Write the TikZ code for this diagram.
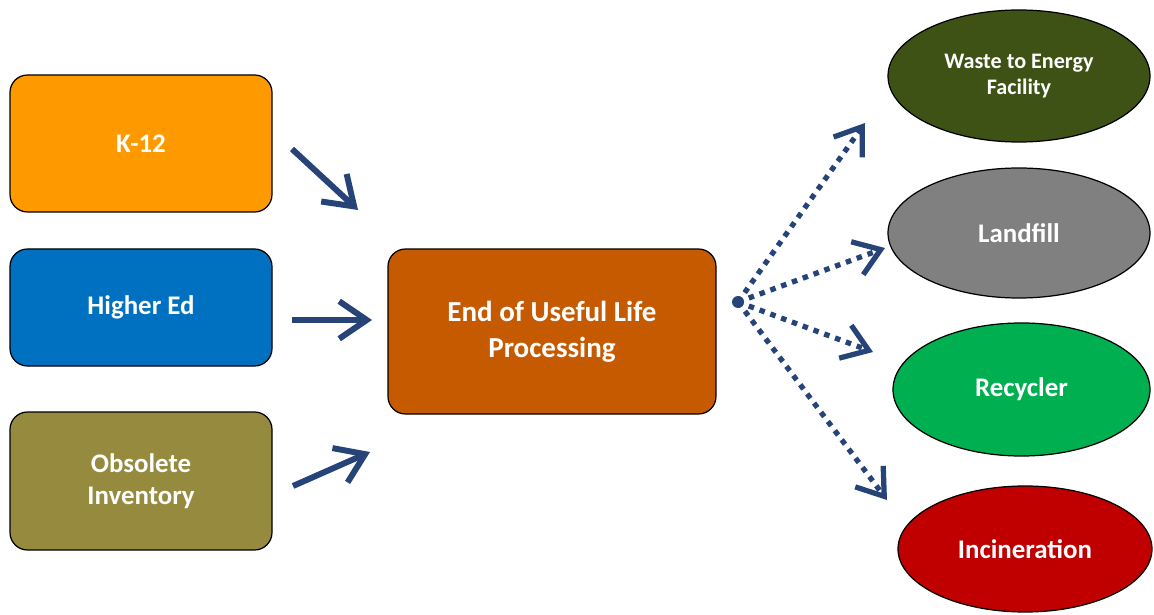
\documentclass[tikz,border=0pt]{standalone}
\usepackage{fontspec}
\setmainfont{Carlito}
\usetikzlibrary{shapes.geometric, arrows.meta}

\definecolor{kOrange}{HTML}{FF9900}
\definecolor{heBlue}{HTML}{0070C0}
\definecolor{obOlive}{HTML}{958A3E}
\definecolor{eolRust}{HTML}{C55A00}
\definecolor{wteGreen}{HTML}{3F5216}
\definecolor{lfGray}{HTML}{808080}
\definecolor{rcGreen}{HTML}{00B050}
\definecolor{inRed}{HTML}{C00000}
\definecolor{flowBlue}{HTML}{264478}

\tikzset{
    srcbox/.style={draw=black, line width=0.7pt, rounded corners=0.35cm, minimum width=5.24cm,
        text=white, font=\bfseries\fontsize{15.3}{18}\selectfont, align=center},
    outlet/.style={ellipse, draw=black, line width=0.7pt, text=white, align=center, inner sep=0pt,
        font=\bfseries\fontsize{15.3}{18}\selectfont},
    flow/.style={flowBlue, line width=3.4pt, -{Straight Barb[length=0.55cm, width=0.75cm, line width=3.4pt]}},
    route/.style={flowBlue, line width=3pt, dash pattern=on 0.11cm off 0.12cm,
        -{Straight Barb[length=0.5cm, width=0.7cm, line width=3pt]}}
}

\begin{document}
\begin{tikzpicture}
    \useasboundingbox (0,0) rectangle (23.08,-12.3);

    % Sources
    \node[srcbox, fill=kOrange, minimum height=2.74cm] (k12) at (2.82,-2.87) {K-12};
    \node[srcbox, fill=heBlue, minimum height=2.34cm] (higher) at (2.82,-6.15) {Higher Ed};
    \node[srcbox, fill=obOlive, minimum height=2.76cm] (obsolete) at (2.82,-9.62) {Obsolete\\Inventory};

    % Processing
    \node[srcbox, fill=eolRust, minimum width=6.56cm, minimum height=3.3cm,
        font=\bfseries\fontsize{16.5}{20.5}\selectfont] (eol) at (11.04,-6.63) {End of Useful Life\\Processing};

    % Destinations
    \node[outlet, fill=wteGreen, minimum width=5.24cm, minimum height=2.64cm,
        font=\bfseries\fontsize{12.6}{15}\selectfont] (wte) at (20.38,-1.52) {Waste to Energy\\Facility};
    \node[outlet, fill=lfGray, minimum width=5.24cm, minimum height=2.6cm] (landfill) at (20.38,-4.66) {Landfill};
    \node[outlet, fill=rcGreen, minimum width=5.14cm, minimum height=2.66cm] (recycler) at (20.43,-7.79) {Recycler};
    \node[outlet, fill=inRed, minimum width=5.08cm, minimum height=2.52cm] (incin) at (20.5,-10.98) {Incineration};

    % Arrow ends
    \coordinate (k12out) at (5.84,-2.98);
    \coordinate (k12in) at (7.16,-4.2);
    \coordinate (heout) at (5.84,-6.4);
    \coordinate (hein) at (7.44,-6.4);
    \coordinate (obout) at (5.86,-9.72);
    \coordinate (obin) at (7.4,-9.04);
    \coordinate (hub) at (14.76,-6.04);
    \coordinate (wtein) at (17.3,-2.46);
    \coordinate (lfin) at (17.7,-4.96);
    \coordinate (rcin) at (17.46,-7.04);
    \coordinate (inin) at (17.74,-10);

    % Inputs
    \draw[flow] (k12out) -- (k12in);
    \draw[flow] (heout) -- (hein);
    \draw[flow] (obout) -- (obin);

    % Outputs
    \fill[flowBlue] (hub) circle (0.12);
    \draw[route] (hub) -- (wtein);
    \draw[route] (hub) -- (lfin);
    \draw[route] (hub) -- (rcin);
    \draw[route] (hub) -- (inin);
\end{tikzpicture}
\end{document}
